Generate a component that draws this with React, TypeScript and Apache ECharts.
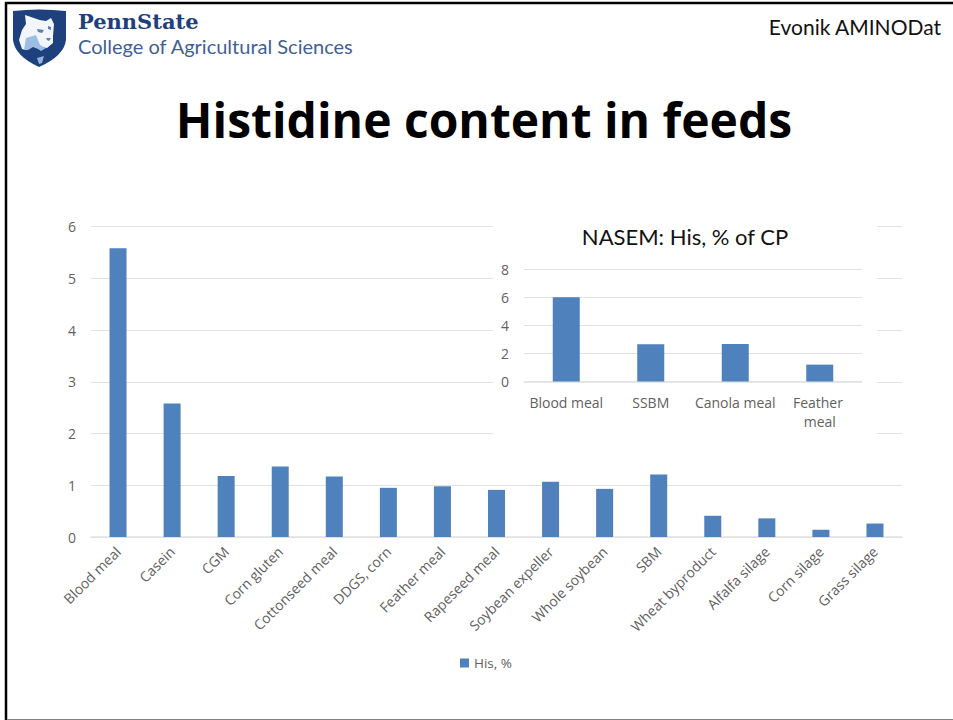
import React, { useEffect, useRef } from "react";
import * as echarts from "echarts";

const feedNames = [
  "Blood meal", "Casein", "CGM", "Corn gluten", "Cottonseed meal", "DDGS, corn", "Feather meal",
  "Rapeseed meal", "Soybean expeller", "Whole soybean", "SBM", "Wheat byproduct", "Alfalfa silage",
  "Corn silage", "Grass silage",
];
const hisPercent = [5.58, 2.58, 1.18, 1.36, 1.17, 0.95, 0.98, 0.91, 1.07, 0.93, 1.21, 0.41, 0.36, 0.14, 0.26];

const nasemNames = ["Blood meal", "SSBM", "Canola meal", "Feather meal"];
const nasemHis = [6.0, 2.65, 2.67, 1.2];

const BAR = "#4f81bd";
const GRID = "#e1e1e1";
const LABEL = "#5f5f5f";
const SANS = "'Open Sans', sans-serif";
const NAVY = "#1e407c";

// Crest outline and the lion's head inside it
const SHIELD = "M13 11 Q39 8 66 11 L66 40 Q64 56 39 67 Q15 56 13 40 Z";
const LION = "M25 15 L31 17 Q38 20 46 21 L51 18 L54 24 L53 36 L53 43 L47 48 L41 47 L37 41 L30 44 L25 50 L22 49 L19 40 L22 30 L26 24 Z";
const LION_SHADE = "M26 38 L36 35 L40 45 L46 48 L41 51 L38 49 L33 47 L28 50 L24 50 Z";
const LION_EYES = "M37 29 L44 30 L42 33 L38 32 Z M48 26 L51 27 L51 30 L48 29 Z M46 38 L51 38 L49 41 L47 40 Z";
const NECK_PATCH = "M37 58 L44 56 L42 63 L39 64 Z";
echarts.graphic.registerShape("crestShield", echarts.graphic.extendPath(SHIELD, {}) as any);
echarts.graphic.registerShape("crestLion", echarts.graphic.extendPath(LION, {}) as any);
echarts.graphic.registerShape("crestShade", echarts.graphic.extendPath(LION_SHADE, {}) as any);
echarts.graphic.registerShape("crestEyes", echarts.graphic.extendPath(LION_EYES, {}) as any);
echarts.graphic.registerShape("crestPatch", echarts.graphic.extendPath(NECK_PATCH, {}) as any);

export default function App() {
  const ref = useRef<HTMLDivElement>(null);

  useEffect(() => {
    const chart = echarts.init(ref.current!, null, { renderer: "svg" });
    chart.setOption({
      animation: false,
      backgroundColor: "#ffffff",
      legend: {
        data: ["His, %"],
        left: 455,
        top: 651,
        itemWidth: 9,
        itemHeight: 9,
        itemGap: 5,
        icon: "rect",
        textStyle: { color: LABEL, fontFamily: SANS, fontSize: 13.5 },
      },
      grid: [
        { left: 91, right: 51, top: 226.5, height: 310.5 },
        { left: 524, right: 91, top: 269, height: 112.5 },
      ],
      xAxis: [
        {
          type: "category",
          gridIndex: 0,
          data: feedNames,
          axisTick: { show: false },
          axisLine: { lineStyle: { color: GRID, width: 1.5 } },
          axisLabel: { rotate: 45, interval: 0, margin: 12, color: LABEL, fontFamily: SANS, fontSize: 14 },
        },
        {
          type: "category",
          gridIndex: 1,
          data: nasemNames,
          z: 10,
          axisTick: { show: false },
          axisLine: { lineStyle: { color: GRID, width: 1.5 } },
          axisLabel: {
            interval: 0,
            margin: 11,
            width: 82,
            overflow: "break",
            lineHeight: 19,
            color: LABEL,
            fontFamily: SANS,
            fontSize: 14,
          },
        },
      ],
      yAxis: [
        {
          type: "value",
          gridIndex: 0,
          min: 0,
          max: 6,
          interval: 1,
          axisLine: { show: false },
          axisTick: { show: false },
          splitLine: { lineStyle: { color: GRID, width: 1 } },
          axisLabel: { margin: 15, color: LABEL, fontFamily: SANS, fontSize: 14 },
        },
        {
          type: "value",
          gridIndex: 1,
          min: 0,
          max: 8,
          interval: 2,
          z: 10,
          axisLine: { show: false },
          axisTick: { show: false },
          splitLine: { lineStyle: { color: GRID, width: 1 } },
          axisLabel: { margin: 15, color: LABEL, fontFamily: SANS, fontSize: 14 },
        },
      ],
      series: [
        {
          type: "bar",
          name: "His, %",
          xAxisIndex: 0,
          yAxisIndex: 0,
          data: hisPercent,
          barWidth: 17,
          itemStyle: { color: BAR },
          z: 2,
        },
        {
          type: "bar",
          name: "NASEM: His, % of CP",
          xAxisIndex: 1,
          yAxisIndex: 1,
          data: nasemHis,
          barWidth: 27,
          itemStyle: { color: BAR },
          z: 10,
        },
      ],
      graphic: [
        // Panel that the inset chart sits on
        { type: "rect", z: 5, silent: true, shape: { x: 493, y: 212, width: 384, height: 224 }, style: { fill: "#ffffff" } },
        // Slide frame
        { type: "line", z: 20, shape: { x1: 5, y1: 3, x2: 953, y2: 3 }, style: { stroke: "#000000", lineWidth: 2.5 } },
        { type: "line", z: 20, shape: { x1: 6, y1: 2, x2: 6, y2: 720 }, style: { stroke: "#000000", lineWidth: 2.5 } },
        { type: "line", z: 20, shape: { x1: 7, y1: 719.5, x2: 953, y2: 719.5 }, style: { stroke: "#808080", lineWidth: 1 } },
        // Crest
        { type: "crestShield", z: 20, x: 0, y: 0, style: { fill: NAVY } },
        { type: "crestLion", z: 21, x: 0, y: 0, style: { fill: "#f2f5fa" } },
        { type: "crestShade", z: 22, x: 0, y: 0, style: { fill: "#9dbde3" } },
        { type: "crestEyes", z: 23, x: 0, y: 0, style: { fill: "#5f7fb0" } },
        { type: "crestPatch", z: 22, x: 0, y: 0, style: { fill: "#8fb3de" } },
        {
          type: "text", z: 20, x: 78, y: 21,
          style: { text: "PennState", fill: NAVY, font: "bold 21px 'DejaVu Serif', serif", textVerticalAlign: "middle" },
        },
        {
          type: "text", z: 20, x: 78, y: 46,
          style: { text: "College of Agricultural Sciences", fill: "#3f5f95", font: "20px Lato, sans-serif", textVerticalAlign: "middle" },
        },
        {
          type: "text", z: 20, x: 941, y: 26,
          style: { text: "Evonik AMINODat", fill: "#111111", font: "21px Lato, sans-serif", textAlign: "right", textVerticalAlign: "middle" },
        },
        {
          type: "text", z: 20, x: 484, y: 119,
          style: { text: "Histidine content in feeds", fill: "#000000", font: "bold 48px 'Open Sans', sans-serif", textAlign: "center", textVerticalAlign: "middle" },
        },
        {
          type: "text", z: 20, x: 685, y: 236,
          style: { text: "NASEM: His, % of CP", fill: "#111111", font: "22px Lato, sans-serif", textAlign: "center", textVerticalAlign: "middle" },
        },
      ],
    });
    return () => chart.dispose();
  }, []);

  return <div ref={ref} style={{ position: "absolute", left: 0, top: 0, width: 953, height: 720 }} />;
}
